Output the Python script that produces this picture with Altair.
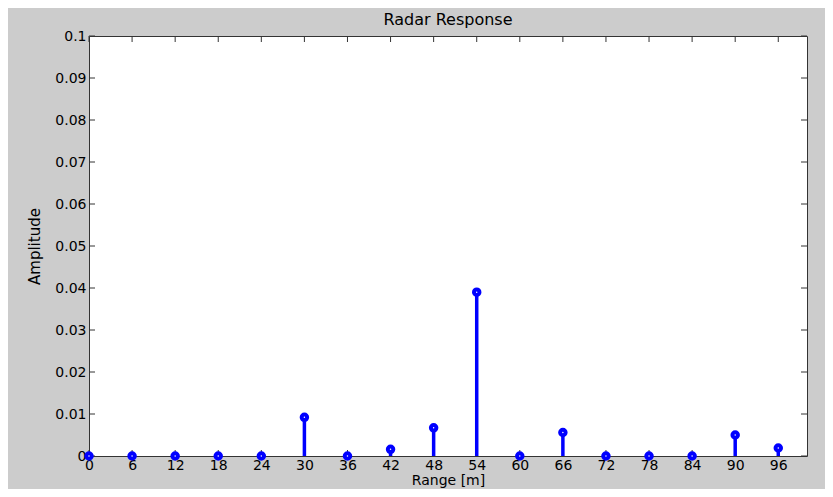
import altair as alt
import pandas as pd

# Data
range_m = [0, 6, 12, 18, 24, 30, 36, 42, 48, 54, 60, 66, 72, 78, 84, 90, 96]
amplitude = [0.0, 0.0, 0.0, 0.0, 0.0, 0.0092, 0.0, 0.0016, 0.0067, 0.0390,
             0.0, 0.0056, 0.0, 0.0, 0.0, 0.0050, 0.0019]
x_ticks = [0, 6, 12, 18, 24, 30, 36, 42, 48, 54, 60, 66, 72, 78, 84, 90, 96]
y_ticks = [0, 0.01, 0.02, 0.03, 0.04, 0.05, 0.06, 0.07, 0.08, 0.09, 0.1]

W, H = 718, 420
TICK = 6
FONT = "DejaVu Sans"
BLUE = "#0000ff"
FRAME = "#333333"

df = pd.DataFrame({"range": range_m, "amp": amplitude})
xt = pd.DataFrame({"t": x_ticks})
yt = pd.DataFrame({"t": y_ticks})

xscale = alt.Scale(domain=[0, 100], nice=False, zero=False)
yscale = alt.Scale(domain=[0, 0.1], nice=False)

xaxis = alt.Axis(values=x_ticks, grid=False, ticks=False, domain=False,
                 labelFont=FONT, labelFontSize=14, labelColor="black",
                 labelPadding=2, labelFlush=False, labelOverlap=False,
                 title="Range [m]", titleFont=FONT, titleFontSize=14,
                 titleFontWeight="normal", titleColor="black", titlePadding=1)
yaxis = alt.Axis(values=y_ticks, grid=False, ticks=False, domain=False,
                 format="~g", labelFont=FONT, labelFontSize=14, labelColor="black",
                 labelPadding=3, labelFlush=False, labelOverlap=False,
                 title="Amplitude", titleFont=FONT, titleFontSize=15,
                 titleFontWeight="normal", titleColor="black", titlePadding=12)

stems = alt.Chart(df).mark_rule(color=BLUE, strokeWidth=3.5).encode(
    x=alt.X("range:Q", scale=xscale, axis=xaxis),
    y=alt.Y("amp:Q", scale=yscale, axis=yaxis),
    y2=alt.datum(0),
)
points = alt.Chart(df).mark_point(shape="circle", size=30, filled=False,
                                  color=BLUE, fill="white", fillOpacity=1,
                                  strokeWidth=4, opacity=1).encode(
    x=alt.X("range:Q", scale=xscale),
    y=alt.Y("amp:Q", scale=yscale),
)

bottom_ticks = alt.Chart(xt).mark_rule(color=FRAME, strokeWidth=1).encode(
    x=alt.X("t:Q", scale=xscale), y=alt.value(H), y2=alt.value(H - TICK))
top_ticks = alt.Chart(xt).mark_rule(color=FRAME, strokeWidth=1).encode(
    x=alt.X("t:Q", scale=xscale), y=alt.value(0), y2=alt.value(TICK))
left_ticks = alt.Chart(yt).mark_rule(color=FRAME, strokeWidth=1).encode(
    y=alt.Y("t:Q", scale=yscale), x=alt.value(0), x2=alt.value(TICK))
right_ticks = alt.Chart(yt).mark_rule(color=FRAME, strokeWidth=1).encode(
    y=alt.Y("t:Q", scale=yscale), x=alt.value(W), x2=alt.value(W - TICK))

chart = alt.layer(
    bottom_ticks, top_ticks, left_ticks, right_ticks, stems, points
).properties(
    width=W, height=H,
    title=alt.TitleParams("Radar Response", font=FONT, fontSize=16,
                          fontWeight="normal", color="black", offset=1),
    background="#cccccc",
    padding={"left": 81, "top": 28, "right": 18, "bottom": 33},
    autosize=alt.AutoSizeParams(type="none"),
).configure_view(
    stroke=FRAME, strokeWidth=1, fill="white"
)

chart.save("out.html", embed_options={"renderer": "svg", "actions": False})
